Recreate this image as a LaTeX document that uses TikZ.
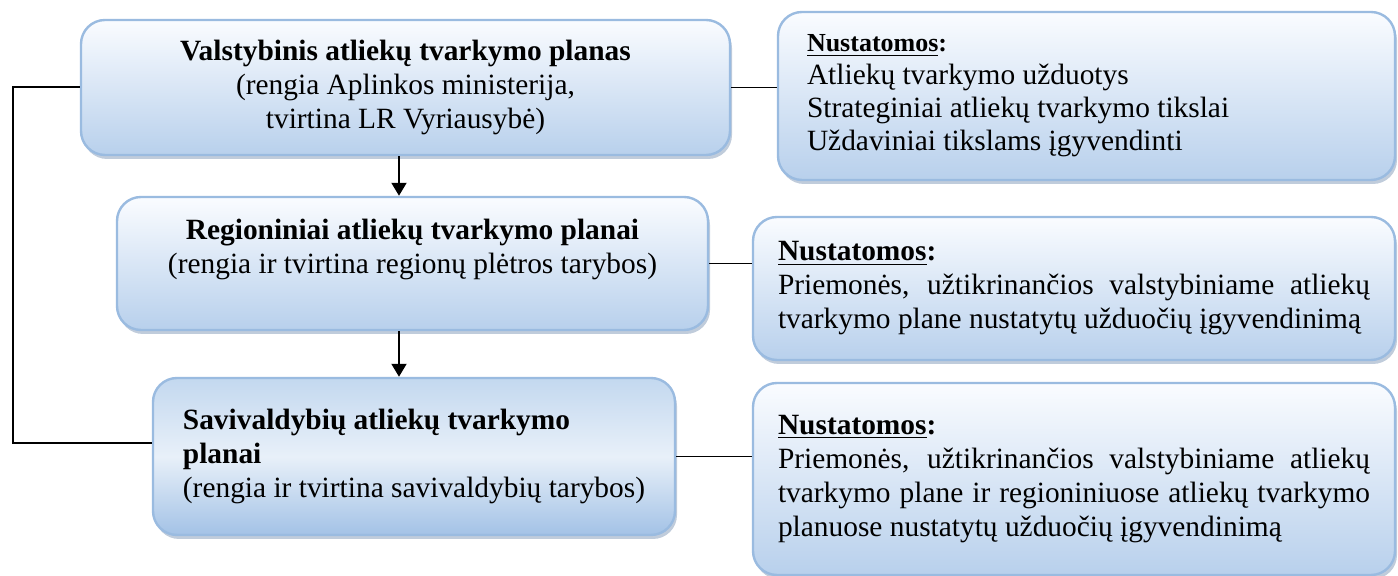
\documentclass[tikz,border=0pt]{standalone}
\usepackage{fontspec}
\setmainfont{Liberation Serif}
\usetikzlibrary{arrows.meta,shadows,positioning}
\sloppy
\hyphenpenalty=10000

\definecolor{PlanLine}{HTML}{9ABBE0}
\definecolor{PlanTop}{HTML}{FAFCFF}
\definecolor{PlanBottom}{HTML}{B8D0EC}
\definecolor{PlanShadow}{HTML}{8299B8}
\definecolor{SavTop}{HTML}{C3D8EF}
\definecolor{SavMid}{HTML}{E8F0F9}
\definecolor{SavBottom}{HTML}{A3C2E6}

\newcommand{\nustatomos}{\textbf{\underline{Nustatomos}:}}

\tikzset{
  plan/.style={draw=PlanLine, line width=1.2pt, rounded corners=12pt,
    top color=PlanTop, bottom color=PlanBottom,
    drop shadow={shadow xshift=1pt, shadow yshift=-2pt, fill=PlanShadow},
    font=\fontsize{14.7}{17}\selectfont, inner xsep=14.5pt},
  link/.style={line width=0.9pt},
  arr/.style={line width=1pt, -{Triangle[length=6.5pt, width=7.5pt]}}
}

\begin{document}
\begin{tikzpicture}[x=0.5pt, y=0.5pt]
  \useasboundingbox (0, 0) rectangle (1398, 576);

  % plans, left column
  \node[plan, align=center, minimum width=324.5pt, minimum height=67.5pt] (valst) at (405.5, 488.5)
    {\textbf{Valstybinis atliekų tvarkymo planas}\\(rengia Aplinkos ministerija,\\tvirtina LR Vyriausybė)};
  \node[plan, align=center, minimum width=295.5pt, minimum height=66.5pt] (regio) at (412.5, 312.5)
    {\textbf{Regioniniai atliekų tvarkymo planai}\\(rengia ir tvirtina regionų plėtros tarybos)\\\mbox{}};
  \node[plan, align=flush left, minimum width=261pt, minimum height=78.5pt,
    top color=SavTop, bottom color=SavBottom, middle color=SavMid] (saviv) at (414, 119.5)
    {\textbf{Savivaldybių atliekų tvarkymo}\\\textbf{planai}\\(rengia ir tvirtina savivaldybių tarybos)};

  % what each plan sets
  \node[plan, text width=279.5pt, align=flush left, minimum height=84pt,
    font=\fontsize{14.7}{16.5}\selectfont] (uzd) at (1086.5, 480)
    {{\fontsize{13}{16.5}\selectfont\nustatomos}\\Atliekų tvarkymo užduotys\\Strateginiai atliekų tvarkymo tikslai\\Uždaviniai tikslams įgyvendinti};
  \node[plan, text width=296pt, align=justify, inner xsep=12.5pt, minimum height=71.5pt] (prie2) at (1074, 287.5)
    {\nustatomos\\Priemonės, užtikrinančios valstybiniame atliekų\linebreak tvarkymo plane nustatytų užduočių įgyvendinimą};
  \node[plan, text width=296pt, align=justify, inner xsep=12.5pt, minimum height=96pt] (prie3) at (1074, 97)
    {\nustatomos\\Priemonės, užtikrinančios valstybiniame atliekų\linebreak tvarkymo plane ir regioniniuose atliekų tvarkymo\linebreak planuose nustatytų užduočių įgyvendinimą};

  % arrows down
  \coordinate (ax) at (399, 0);
  \draw[arr] (valst.south -| ax) -- (regio.north -| ax);
  \draw[arr] (regio.south -| ax) -- (saviv.north -| ax);

  % links to the right
  \draw[link] (valst.east) -- (uzd.west |- valst.east);
  \draw[link] (regio.east) -- (prie2.west |- regio.east);
  \draw[link] (saviv.east) -- (prie3.west |- saviv.east);

  % bracket on the left
  \coordinate (brtop) at (13, 486);
  \coordinate (brbot) at (13, 133);
  \draw[line width=1pt] (valst.west) -- (valst.west -| brtop) -- (brbot) -- (brbot -| saviv.west);
\end{tikzpicture}
\end{document}
